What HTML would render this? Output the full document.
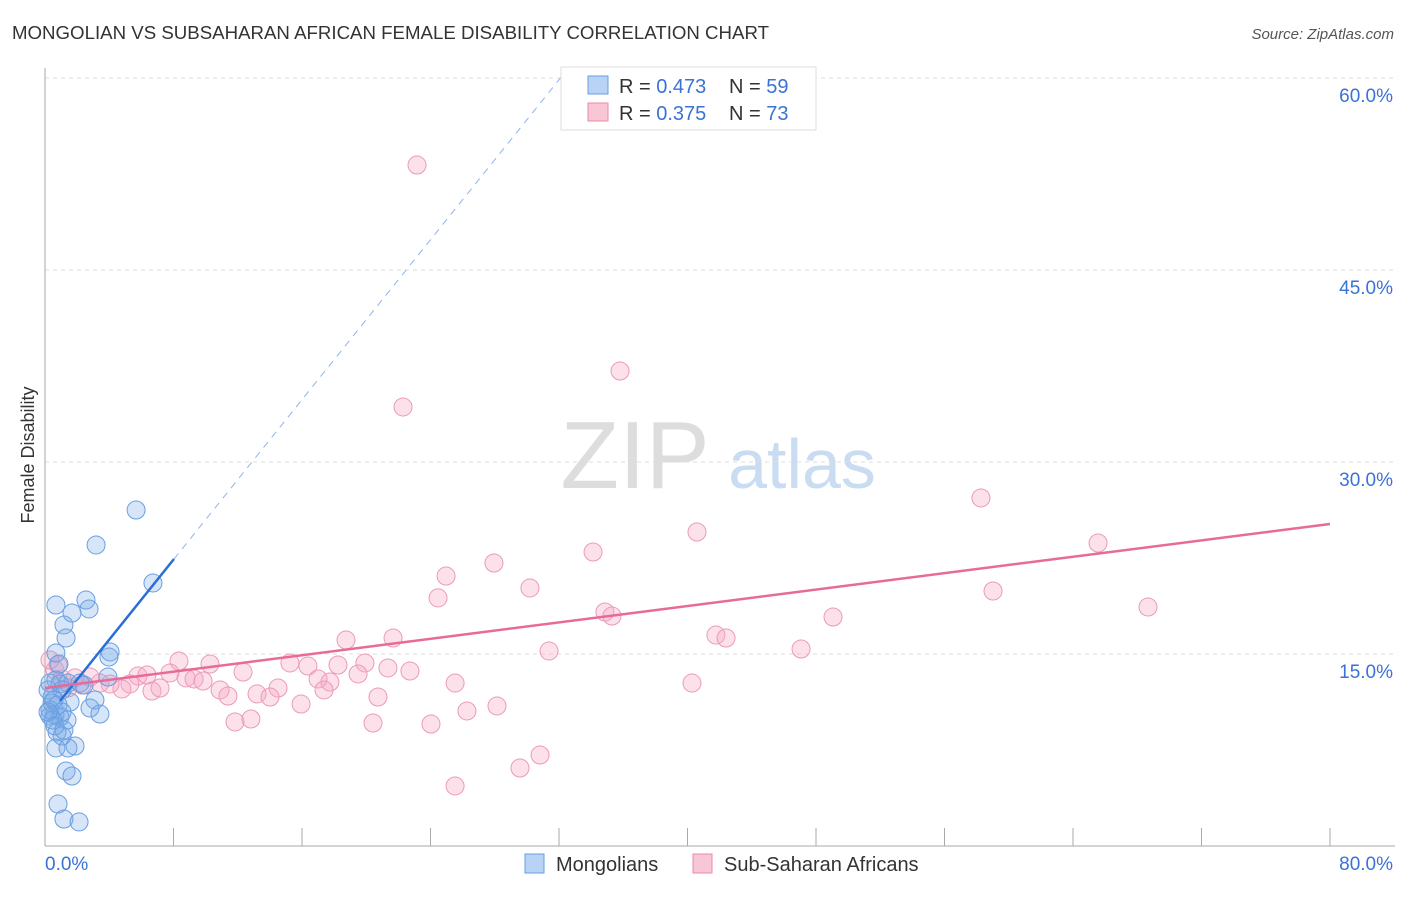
<!DOCTYPE html>
<html><head><meta charset="utf-8"><style>
body{margin:0;background:#fff;font-family:"Liberation Sans",sans-serif}
svg text{font-family:"Liberation Sans",sans-serif}
</style></head><body>
<svg id="chart" width="1406" height="892">
<text x="12" y="39" font-size="18" fill="#333" textLength="757" lengthAdjust="spacingAndGlyphs">MONGOLIAN VS SUBSAHARAN AFRICAN FEMALE DISABILITY CORRELATION CHART</text>
<text x="1394" y="39" font-size="15" fill="#555" font-style="italic" text-anchor="end">Source: ZipAtlas.com</text>
<text x="635" y="488" font-size="96" fill="#ddd" font-family="Liberation Serif" text-anchor="middle">ZIP</text>
<text x="802" y="488" font-size="70" fill="#c9dcf2" text-anchor="middle">atlas</text>
<g id="grid"></g>
<g id="axes"></g>
<g id="marks"></g>
<text transform="translate(34,455) rotate(-90)" font-size="18" fill="#333" text-anchor="middle">Female Disability</text>
<g>
<rect x="561" y="67" width="255" height="63" fill="#fff" stroke="#ddd"/>
<rect x="588" y="76" width="20" height="18" fill="#b8d3f5" stroke="#6a9ee0"/>
<rect x="588" y="103" width="20" height="18" fill="#f9c6d6" stroke="#e88aab"/>
<text x="619" y="93" font-size="20" fill="#333">R = <tspan fill="#3a72d6">0.473</tspan></text>
<text x="729" y="93" font-size="20" fill="#333">N = <tspan fill="#3a72d6">59</tspan></text>
<text x="619" y="120" font-size="20" fill="#333">R = <tspan fill="#3a72d6">0.375</tspan></text>
<text x="729" y="120" font-size="20" fill="#333">N = <tspan fill="#3a72d6">73</tspan></text>
</g>
<g>
<rect x="525" y="854" width="19" height="19" fill="#b8d3f5" stroke="#6a9ee0"/>
<text x="556" y="871" font-size="20" fill="#333">Mongolians</text>
<rect x="693" y="854" width="19" height="19" fill="#f9c6d6" stroke="#e88aab"/>
<text x="724" y="871" font-size="20" fill="#333">Sub-Saharan Africans</text>
</g>
</svg>
<script>
const yTicks=[15,30,45,60];
const yTickLabels=["15.0%","30.0%","45.0%","60.0%"];
const xTickLabels=["0.0%","80.0%"];
const blueX=[5.67,3.18,6.72,0.68,2.55,1.68,2.74,1.18,1.31,0.68,0.87,4.05,3.98,0.68,1.43,2.18,2.43,3.92,3.11,2.80,3.42,1.56,0.44,0.31,0.62,0.93,1.37,0.31,0.44,0.19,0.75,1.06,1.87,0.68,1.43,1.31,1.68,0.81,1.18,2.12,0.93,1.06,0.31,0.56,0.81,1.06,0.50,0.19,0.62,1.18];
const blueY=[26.25,23.52,20.55,18.83,19.22,18.20,18.52,17.27,16.25,15.08,14.22,15.16,14.77,12.97,12.73,12.73,12.58,13.20,11.41,10.78,10.31,11.25,11.17,10.63,10.23,10.08,9.84,10.16,11.64,12.19,8.91,8.59,7.81,7.66,7.66,5.86,5.47,3.28,2.11,1.88,12.66,12.19,12.73,11.41,11.02,10.47,9.84,10.47,9.38,9.06];
const pinkX=[23.16,35.80,22.29,58.27,65.56,40.59,34.12,27.95,24.97,30.19,24.47,59.02,68.67,34.86,35.30,49.06,41.77,42.40,18.74,21.67,47.07,31.38,8.34,10.27,15.25,16.37,18.24,19.92,21.35,22.72,12.33,5.79,6.35,7.78,8.78,9.28,9.84,17.00,17.74,19.49,14.51,13.20,14.01,17.37,10.90,11.39,15.94,20.73,25.53,40.28,26.27,28.14,11.83,12.82,20.42,24.03,30.82,29.57,25.53,6.66,7.16,5.29,4.79,4.05,3.42,2.80,1.87,1.06,0.62,0.81,1.43,2.30,0.31];
const pinkY=[53.20,37.11,34.30,27.19,23.67,24.53,22.97,22.11,21.09,20.16,19.38,19.92,18.67,18.28,17.97,17.89,16.48,16.25,16.09,16.25,15.39,15.23,14.45,14.22,14.30,14.06,14.14,14.30,13.91,13.67,13.59,13.28,13.36,13.52,13.13,13.05,12.89,13.05,12.81,13.44,12.34,11.88,11.64,12.19,12.19,11.72,11.09,11.64,12.73,12.73,10.55,10.94,9.69,9.92,9.61,9.53,7.11,6.09,4.69,12.11,12.34,12.66,12.27,12.66,12.73,13.20,13.13,13.05,13.75,14.14,12.34,12.58,14.53];
const blueFit=[0.93,11.33,8.03,22.42];
const pinkFit=[0,12.34,80,25.16];
const NS="http://www.w3.org/2000/svg";
const xs=v=>45+v/80*1285, ys=v=>846-v/15*192;
function mk(t,a,p){const e=document.createElementNS(NS,t);for(const k in a)e.setAttribute(k,a[k]);p.appendChild(e);return e;}
const grid=document.getElementById('grid'),axes=document.getElementById('axes'),marks=document.getElementById('marks');
yTicks.forEach((v,i)=>{
 const l=mk('line',{x1:45,x2:1395,y1:ys(v),y2:ys(v),stroke:'#ddd','stroke-dasharray':'4,4'},grid);
 
 
 const t=mk('text',{x:1393,y:ys(v)+24,'font-size':19,fill:'#3a72d6','text-anchor':'end'},grid);
 t.textContent=yTickLabels[i];
 
 
});
const ax=mk('line',{x1:45,x2:45,y1:68,y2:846,stroke:'#aaa'},axes);


const bx=mk('line',{x1:45,x2:1395,y1:846,y2:846,stroke:'#aaa'},axes);


for(let i=1;i<=10;i++){const tk=mk('line',{x1:xs(i*8),x2:xs(i*8),y1:828,y2:846,stroke:'#aaa'},axes);
 
 }
[[0,'start',45],[80,'end',1393]].forEach((d,i)=>{const t=mk('text',{x:d[2],y:870,'font-size':19,fill:'#3a72d6','text-anchor':d[1]},axes);t.textContent=xTickLabels[i];
 
 });
function dots(X,Y,fill,stroke,name){X.forEach((x,i)=>{const c=mk('circle',{cx:xs(x),cy:ys(Y[i]),r:9,fill:fill,stroke:stroke,'stroke-width':1},marks);
 
 });}
dots(pinkX,pinkY,'rgba(246,170,198,0.35)','#eb9ab8','subsaharan-point');
dots(blueX,blueY,'rgba(120,168,232,0.3)','#6a9ee0','mongolian-point');
const sl=(blueFit[3]-blueFit[1])/(blueFit[2]-blueFit[0]);
const ex=blueFit[0]+(60-blueFit[1])/sl;
const bd=mk('line',{x1:xs(blueFit[2]),y1:ys(blueFit[3]),x2:xs(ex),y2:ys(60),stroke:'#8fb4ea','stroke-dasharray':'7,6','stroke-width':1},marks);


const bl=mk('line',{x1:xs(blueFit[0]),y1:ys(blueFit[1]),x2:xs(blueFit[2]),y2:ys(blueFit[3]),stroke:'#2a6fd6','stroke-width':2.5},marks);


const pl=mk('line',{x1:xs(pinkFit[0]),y1:ys(pinkFit[1]),x2:xs(pinkFit[2]),y2:ys(pinkFit[3]),stroke:'#e86a98','stroke-width':2.5},marks);


</script>
</body></html>
